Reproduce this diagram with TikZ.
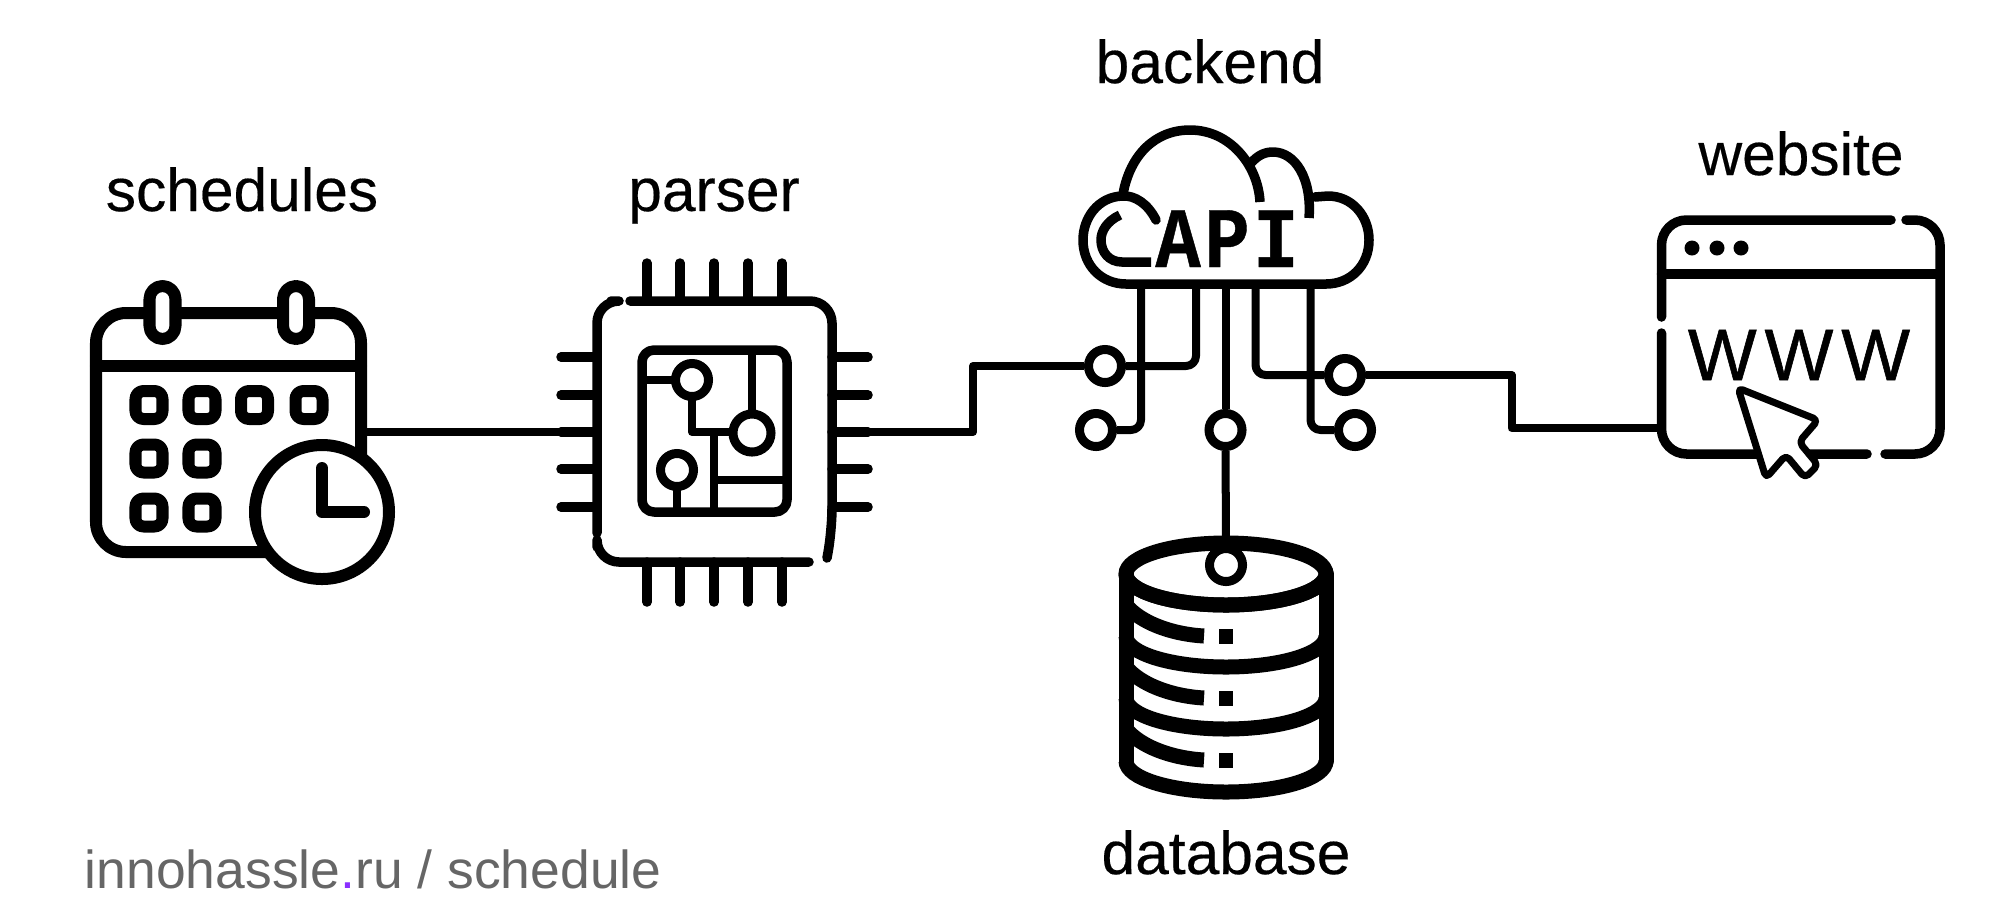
\documentclass[tikz,border=0pt]{standalone}
\usepackage{fontspec}
\setmainfont{Liberation Sans}
\newfontfamily\labelfont[FakeBold=0.3]{Liberation Sans}
\newfontfamily\apifont[FakeStretch=0.88,LetterSpace=4,FakeBold=0.5]{Liberation Mono}
\newfontfamily\wwwfont[LetterSpace=11,FakeBold=0.8]{Liberation Sans}
\usepackage{xcolor}
\usepackage{tikz}
\definecolor{footgray}{HTML}{666666}
\definecolor{footdot}{HTML}{8B2FFF}
\tikzset{
  heavy/.style={draw=black, line width=0.12cm, line cap=round, line join=round},
  medium/.style={draw=black, line width=0.095cm, line cap=round, line join=round},
  wire/.style={draw=black, line width=0.08cm, line join=round},
  drum/.style={draw=black, line width=0.15cm},
  pad/.style={circle, draw=black, fill=white, line width=0.09cm, minimum size=0.33cm, inner sep=0pt},
  label/.style={black, anchor=base, font=\labelfont\fontsize{17.2}{20}\selectfont},
  footer/.style={footgray, anchor=base west, font=\fontsize{15.2}{18}\selectfont}
}
\begin{document}
\begin{tikzpicture}[x=0.01cm, y=-0.01cm]
  \useasboundingbox (0,0) rectangle (2000,914);
  % Titles
  \node[label] (schedules) at (242,211) {schedules};
  \node[label] (parser) at (714,211) {parser};
  \node[label] (backend) at (1210,83) {backend};
  \node[label] (website) at (1801,175) {website};
  \node[label] (database) at (1226,874) {database};
  \node[footer] (footnote) at (72.5,888) {innohassle\textcolor{footdot}{.}ru / schedule};
  % Calendar
  \draw[heavy, rounded corners=0.3cm] (96,313) rectangle (361,552);
  \draw[heavy] (96,366) -- (361,366);
  \foreach \x in {162.5,296}
    \draw[heavy, fill=white, rounded corners=0.13cm] (\x-13,286) rectangle (\x+13,339);
  \foreach \x/\y in {149/405,202/405,254.5/405,309/405,149/458.5,202/458.5,149/512.5,202/512.5}
    \draw[heavy, rounded corners=0.08cm] (\x-13.5,\y-14) rectangle (\x+13.5,\y+14);
  \draw[heavy, fill=white] (322,512) circle[radius=67];
  \draw[heavy] (322,468) -- (322,512) -- (364,512);
  % Chip
  \draw[medium, rounded corners=0.22cm] (597,533) -- (597,301) -- (611,301);
  \draw[medium, rounded corners=0.22cm] (630,301) -- (832,301) -- (832,530) -- (827,558);
  \draw[medium, rounded corners=0.22cm] (809,562) -- (597,562) -- (597,547);
  \foreach \x in {647,680,714,748,782} {
    \draw[medium] (\x,263) -- (\x,301);
    \draw[medium] (\x,562) -- (\x,602);
  }
  \foreach \y in {357,395,432,469,507} {
    \draw[medium] (561,\y) -- (597,\y);
    \draw[medium] (832,\y) -- (868,\y);
  }
  \draw[medium, rounded corners=0.12cm] (642,350) rectangle (787,512);
  \draw[wire] (642,380) -- (692,380);
  \draw[wire] (692,380) -- (692,432) -- (752,432);
  \draw[wire] (752,350) -- (752,432);
  \draw[wire] (714,432) -- (714,512);
  \draw[wire] (714,480) -- (787,480);
  \draw[wire] (677,470) -- (677,512);
  \node[pad] (chipa) at (692,380) {};
  \node[pad, minimum size=0.38cm] (chipb) at (752,433) {};
  \node[pad] (chipc) at (677,470) {};
  % Cloud
  \draw[medium] (1156,220) .. controls (1148,204) and (1135,195) .. (1122,196)
    .. controls (1098,197) and (1083,218) .. (1083,240)
    .. controls (1083,266) and (1102,284) .. (1126,284) -- (1326,284)
    .. controls (1350,284) and (1369,266) .. (1369,240)
    .. controls (1369,216) and (1352,196) .. (1328,196) -- (1315,197);
  \draw[medium, line cap=butt] (1123,194) .. controls (1130,155) and (1155,130) .. (1190,130)
    .. controls (1230,130) and (1258,165) .. (1260,202);
  \draw[medium, line cap=butt] (1251,163) .. controls (1258,155) and (1265,152) .. (1273,152)
    .. controls (1295,152) and (1312,178) .. (1309,218);
  \draw[medium, line cap=butt] (1120,215) .. controls (1107,221) and (1101,231) .. (1101,240)
    .. controls (1101,252) and (1109,262) .. (1122,262) -- (1151,262);
  \node[anchor=base, font=\apifont\bfseries\fontsize{24.5}{25}\selectfont] (api) at (1227,267) {API};
  % Bus under the cloud
  \coordinate (busa) at (1141,284);
  \coordinate (busb) at (1196,284);
  \coordinate (busc) at (1225.5,284);
  \coordinate (busd) at (1255.5,284);
  \coordinate (buse) at (1310.5,284);
  \node[pad] (pada) at (1105,366) {};
  \node[pad] (padb) at (1096,430) {};
  \node[pad] (padc) at (1225.5,430) {};
  \node[pad] (padd) at (1345,375) {};
  \node[pad] (pade) at (1355,430) {};
  \draw[wire, rounded corners=0.1cm] (busa) -- (busa |- padb) -- (padb);
  \draw[wire, rounded corners=0.1cm] (busb) -- (busb |- pada) -- (pada);
  \draw[wire] (busc) -- (padc);
  \draw[wire, rounded corners=0.1cm] (busd) -- (busd |- padd) -- (padd);
  \draw[wire, rounded corners=0.1cm] (buse) -- (buse |- pade) -- (pade);
  % Database
  \foreach \y in {605,667,729,792}
    \draw[drum] (1126,\y-31) arc[start angle=180, end angle=0, x radius=100, y radius=31];
  \draw[drum] (1226,574) ellipse[x radius=100, y radius=31];
  \draw[drum, line cap=round] (1126,574) -- (1126,761);
  \draw[drum, line cap=round] (1326,574) -- (1326,761);
  \foreach \y in {605,667,729} {
    \draw[drum] (1126,\y) .. controls (1140,\y+17) and (1170,\y+29) .. (1204,\y+31);
    \fill[black] (1219,\y+24) rectangle (1233,\y+39);
  }
  \node[pad] (paddb) at (1226,565) {};
  % Browser window
  \draw[medium, rounded corners=0.25cm] (1661.5,317) -- (1661.5,220) -- (1891,220);
  \draw[medium, rounded corners=0.25cm] (1906,220) -- (1940,220) -- (1940,454) -- (1885,454);
  \draw[medium, rounded corners=0.25cm] (1867,454) -- (1661.5,454) -- (1661.5,333);
  \draw[medium] (1661.5,274) -- (1940,274);
  \foreach \x in {1692,1717,1741}
    \fill[black] (\x,248) circle[radius=7.5];
  \node[anchor=base, font=\wwwfont\fontsize{20.7}{22}\selectfont] (www) at (1799,380) {WWW};
  \draw[medium, line width=0.07cm, fill=white, rounded corners=0.05cm] (1738,388) -- (1818,420) -- (1799,442)
    -- (1818,465) -- (1805,478) -- (1786,455) -- (1766,478) -- cycle;
  % Connectors
  \coordinate (calout) at (361,432);
  \coordinate (chipin) at (597,432);
  \coordinate (chipout) at (832,432);
  \coordinate (elbowa) at (973,432);
  \coordinate (elbowb) at (1511.5,428);
  \coordinate (webin) at (1661.5,428);
  \draw[wire] (calout) -- (chipin);
  \draw[wire] (chipout) -- (elbowa) |- (pada);
  \draw[wire] (padd) -| (elbowb) -- (webin);
  \draw[wire] (padc) -- (paddb);
\end{tikzpicture}
\end{document}
